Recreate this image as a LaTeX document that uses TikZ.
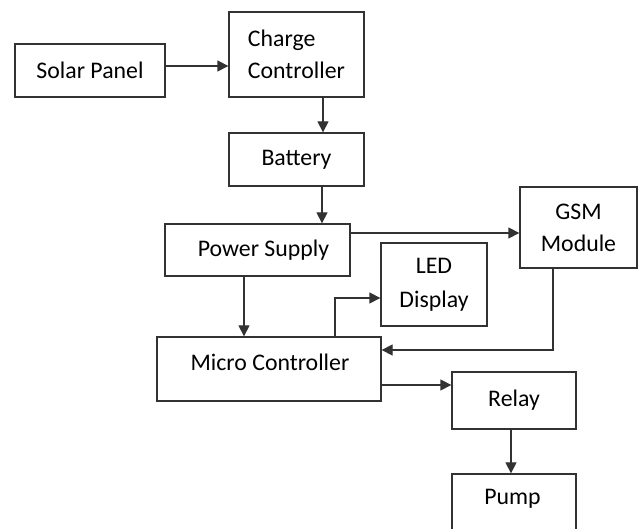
\documentclass[tikz,border=0pt]{standalone}
\usepackage{fontspec}
\setmainfont{Carlito}
\usetikzlibrary{arrows.meta}
\definecolor{linec}{RGB}{50,50,50}
\begin{document}
\begin{tikzpicture}[x=1pt,y=-1pt,
  line width=1.3pt,
  box/.style={draw=linec, rectangle, inner sep=0pt, font=\fontsize{23.8}{32}\selectfont, align=center, text=black},
  txt/.style={inner sep=0pt, font=\fontsize{23.8}{32}\selectfont, text=black},
  arr/.style={draw=linec, -{Triangle[length=11pt,width=11pt]}}]
\useasboundingbox (0,0) rectangle (641,529);
\clip (0,0) rectangle (641,529);
\fill[white] (0,0) rectangle (641,529);
% boxes
\node[box, minimum width=150pt, minimum height=53pt] (sp) at (90,70.5) {Solar Panel};
\node[box, minimum width=135pt, minimum height=85pt, align=left] (cc) at (296.5,54.5) {Charge\\Controller};
\node[box, minimum width=135pt, minimum height=53pt] (bat) at (296.5,159.5) {Battery};
\node[box, minimum width=185pt, minimum height=52pt] (ps) at (257.5,250) {\hspace*{12pt}Power Supply};
\node[box, minimum width=117pt, minimum height=81pt] (gsm) at (578.5,227.5) {GSM\\Module};
\node[box, minimum width=106pt, minimum height=83pt, font=\fontsize{23.8}{34}\selectfont] (led) at (434,284.5) {LED\\Display};
\node[box, minimum width=224pt, minimum height=64pt] (mc) at (269,369) {};
\node[txt] (mct) at (270,362) {Micro Controller};
\node[box, minimum width=124pt, minimum height=57pt] (relay) at (514,400.5) {Relay};
\node[box, minimum width=124pt, minimum height=71pt] (pump) at (514,509.5) {};
\node[txt] (pumpt) at (512.5,499) {Pump};
% connectors
\coordinate (a1) at ([yshift=4.5pt]sp.east);
\draw[arr] (a1) -- (a1 -| cc.west);
\coordinate (a2) at ([xshift=26.5pt]cc.south);
\draw[arr] (a2) -- (a2 |- bat.north);
\coordinate (a3) at ([xshift=25.5pt]bat.south);
\draw[arr] (a3) -- (a3 |- ps.north);
\coordinate (a4) at ([yshift=17pt]ps.east);
\draw[arr] (a4) -- (a4 -| gsm.west);
\coordinate (a5) at ([xshift=-13.5pt]ps.south);
\draw[arr] (a5) -- (a5 |- mc.north);
\coordinate (a6) at ([xshift=66pt]mc.north);
\coordinate (a7) at ([yshift=-13.5pt]led.west);
\draw[arr] (a6) |- (a7);
\coordinate (a8) at ([xshift=-25.5pt]gsm.south);
\coordinate (a9) at ([yshift=19pt]mc.east);
\draw[arr] (a8) |- (a9);
\coordinate (a10) at ([yshift=-16pt]mc.east);
\draw[arr] (a10) -- (a10 -| relay.west);
\coordinate (a11) at ([xshift=-3pt]relay.south);
\draw[arr] (a11) -- (a11 |- pump.north);
\end{tikzpicture}
\end{document}
